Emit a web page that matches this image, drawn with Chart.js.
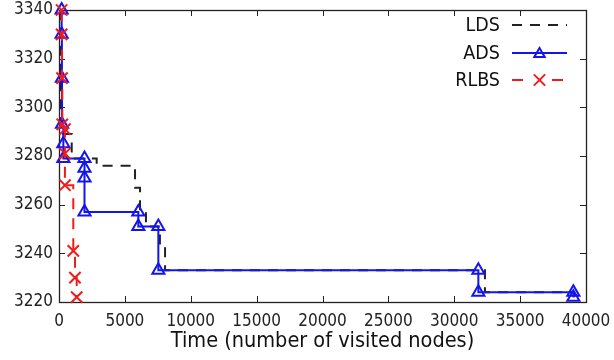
<!DOCTYPE html>
<html><head><meta charset="utf-8">
<script src="https://cdn.jsdelivr.net/npm/chart.js@4.4.1/dist/chart.umd.min.js"></script>
<style>html,body{margin:0;padding:0;background:#fff;overflow:hidden}</style>
</head><body>
<canvas id="c" width="614" height="360"></canvas>
<script>
// ---- data ----
const seriesNames = ['LDS', 'ADS', 'RLBS'];
const xTicks = [0, 5000, 10000, 15000, 20000, 25000, 30000, 35000, 40000];
const yTicks = [3220, 3240, 3260, 3280, 3300, 3320, 3340];

const ldsX = [100, 100, 120, 150, 200, 964, 2860, 5770, 6150, 6600, 7660, 8050, 32330, 39100];
const ldsY = [3340, 3330, 3312, 3293, 3289, 3279, 3276, 3267, 3257, 3251, 3243, 3233, 3224, 3222];

const adsX = [200, 200, 220, 230, 330, 330, 1935, 1935, 1935, 1935, 6020, 6020, 7540, 7540, 31830, 31830, 39040, 39040];
const adsY = [3340, 3330, 3312, 3293, 3285, 3279, 3279, 3275, 3271, 3257, 3257, 3251, 3251, 3233, 3233, 3224, 3224, 3222];

const rlbsX = [200, 200, 230, 250, 450, 450, 450, 1085, 1214, 1343];
const rlbsY = [3340, 3330, 3312, 3293, 3291, 3281, 3268, 3241, 3230, 3222];

const FONT = '"DejaVu Sans Condensed", "DejaVu Sans", sans-serif';
const pts = (xs, ys) => xs.map((x, i) => ({x: x, y: ys[i]}));

const frameTicks = {
  id: 'frameTicks',
  beforeDatasetsDraw(chart) {
    const {ctx, chartArea: a, scales: {x, y}} = chart;
    ctx.save();
    ctx.strokeStyle = '#222';
    ctx.lineWidth = 1;
    const L = 6;
    ctx.beginPath();
    xTicks.forEach(v => {
      const px = Math.round(x.getPixelForValue(v)) + 0.5;
      ctx.moveTo(px, a.bottom); ctx.lineTo(px, a.bottom - L);
      ctx.moveTo(px, a.top); ctx.lineTo(px, a.top + L);
    });
    yTicks.forEach(v => {
      const py = Math.round(y.getPixelForValue(v)) + 0.5;
      ctx.moveTo(a.left, py); ctx.lineTo(a.left + L, py);
      ctx.moveTo(a.right, py); ctx.lineTo(a.right - L, py);
    });
    ctx.stroke();
    ctx.lineWidth = 1.3;
    ctx.strokeRect(Math.round(a.left) + 0.5, Math.round(a.top) + 0.5,
      Math.round(a.right - a.left), Math.round(a.bottom - a.top));
    ctx.restore();
  }
};

const keyLegend = {
  id: 'keyLegend',
  afterDraw(chart) {
    const {ctx} = chart;
    const rows = [25, 53, 80];
    const tx = 500, x1 = 512, x2 = 567;
    ctx.save();
    ctx.font = '19.5px ' + FONT;
    ctx.textAlign = 'right';
    ctx.textBaseline = 'middle';
    chart.data.datasets.forEach((ds, i) => {
      const yy = rows[i];
      ctx.fillStyle = '#111';
      ctx.fillText(ds.label, tx, yy + 1);
      ctx.strokeStyle = ds.borderColor;
      ctx.lineWidth = 2;
      ctx.setLineDash(ds.borderDash || []);
      ctx.beginPath();
      ctx.moveTo(x1, yy); ctx.lineTo(x2, yy);
      ctx.stroke();
      ctx.setLineDash([]);
      if (ds.pointRadius > 0) {
        const mx = (x1 + x2) / 2;
        if (ds.pointStyle === 'crossRot') {
          ctx.fillStyle = '#fff';
          ctx.fillRect(mx - 8, yy - 3, 16, 6);
        }
        ctx.fillStyle = 'rgba(0,0,0,0)';
        ctx.strokeStyle = ds.pointBorderColor;
        ctx.lineWidth = ds.pointBorderWidth;
        Chart.helpers.drawPoint(ctx, {
          pointStyle: ds.pointStyle, radius: ds.pointStyle === 'triangle' ? 6 : 8,
          borderWidth: ds.pointBorderWidth, rotation: 0
        }, mx, yy + (ds.pointStyle === 'triangle' ? 1 : 0));
      }
    });
    ctx.restore();
  }
};

new Chart(document.getElementById('c'), {
  type: 'line',
  data: {
    datasets: [
      {
        label: seriesNames[0], data: pts(ldsX, ldsY), order: 3,
        borderColor: '#222', borderWidth: 2, borderDash: [10, 8], stepped: 'before',
        pointRadius: 0, pointStyle: false, clip: 12
      },
      {
        label: seriesNames[1], data: pts(adsX, adsY), order: 2,
        borderColor: '#1414ee', borderWidth: 2, stepped: 'before',
        pointStyle: 'triangle', pointRadius: 7, pointBorderWidth: 2,
        pointBorderColor: '#1414ee', pointBackgroundColor: 'rgba(0,0,0,0)', clip: 12
      },
      {
        label: seriesNames[2], data: pts(rlbsX, rlbsY), order: 1,
        borderColor: '#ee1c1c', borderWidth: 2, borderDash: [11, 9], stepped: 'before',
        pointStyle: 'crossRot', pointRadius: 8, pointBorderWidth: 2,
        pointBorderColor: '#ee1c1c', pointBackgroundColor: 'rgba(0,0,0,0)', clip: 12
      }
    ]
  },
  options: {
    responsive: false,
    animation: false,
    devicePixelRatio: 1,
    layout: {padding: {left: 0, right: 28, top: 6, bottom: 0}},
    plugins: {legend: {display: false}, tooltip: {enabled: false}},
    scales: {
      x: {
        type: 'linear', min: 0, max: 40000,
        afterBuildTicks(s) { s.ticks = xTicks.map(v => ({value: v})); },
        afterFit(s) { s.height = 58; s.paddingLeft = 0; s.paddingRight = 0; },
        grid: {display: false, drawTicks: false},
        border: {display: false},
        ticks: {padding: 9, color: '#222', font: {family: FONT, size: 17}, maxRotation: 0, autoSkip: false,
          callback: v => String(v)},
        title: {display: true, text: 'Time (number of visited nodes)', color: '#111',
          font: {family: FONT, size: 21.5}, padding: {top: 0, bottom: 6}}
      },
      y: {
        type: 'linear', min: 3220, max: 3340,
        afterBuildTicks(s) { s.ticks = yTicks.map(v => ({value: v})); },
        afterFit(s) { s.width = 59; s.paddingTop = 0; s.paddingBottom = 0; },
        grid: {display: false, drawTicks: false},
        border: {display: false},
        ticks: {padding: 6, color: '#222', font: {family: FONT, size: 17}, autoSkip: false,
          callback: v => String(v)}
      }
    }
  },
  plugins: [frameTicks, keyLegend]
});
</script>
</body></html>
